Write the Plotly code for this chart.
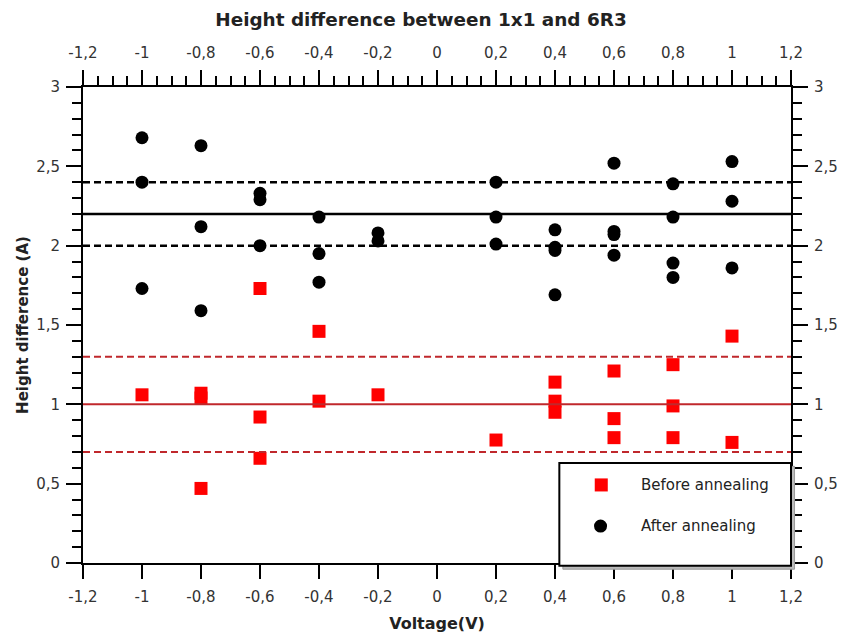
import plotly.graph_objects as go

# Data
before_x = [-1, -0.8, -0.8, -0.8, -0.6, -0.6, -0.6, -0.4, -0.4, -0.2,
            0.2, 0.4, 0.4, 0.4, 0.6, 0.6, 0.6, 0.8, 0.8, 0.8, 1.0, 1.0]
before_y = [1.06, 1.07, 1.04, 0.47, 1.73, 0.92, 0.66, 1.46, 1.02, 1.06,
            0.775, 1.14, 1.02, 0.95, 1.21, 0.91, 0.79, 1.25, 0.99, 0.79, 1.43, 0.76]

after_x = [-1, -1, -1, -0.8, -0.8, -0.8, -0.6, -0.6, -0.6, -0.4, -0.4, -0.4,
           -0.2, -0.2, 0.2, 0.2, 0.2, 0.4, 0.4, 0.4, 0.4, 0.6, 0.6, 0.6, 0.6,
           0.8, 0.8, 0.8, 0.8, 1.0, 1.0, 1.0]
after_y = [2.68, 2.40, 1.73, 2.63, 2.12, 1.59, 2.33, 2.29, 2.00, 2.18, 1.95, 1.77,
           2.08, 2.03, 2.40, 2.18, 2.01, 2.10, 1.99, 1.97, 1.69, 2.52, 2.09, 2.07, 1.94,
           2.39, 2.18, 1.89, 1.80, 2.53, 2.28, 1.86]

after_mean = 2.2
after_band = [2.0, 2.4]
before_mean = 1.0
before_band = [0.7, 1.3]

x_range = [-1.2, 1.2]
y_range = [0, 3]

x_tick_vals = [-1.2, -1.0, -0.8, -0.6, -0.4, -0.2, 0, 0.2, 0.4, 0.6, 0.8, 1.0, 1.2]
x_tick_text = ["-1,2", "-1", "-0,8", "-0,6", "-0,4", "-0,2", "0", "0,2", "0,4", "0,6", "0,8", "1", "1,2"]
y_tick_vals = [0, 0.5, 1, 1.5, 2, 2.5, 3]
y_tick_text = ["0", "0,5", "1", "1,5", "2", "2,5", "3"]

legend_labels = ["Before annealing", "After annealing"]

FONT = "DejaVu Sans"
RED_LINE = "#c0282c"
TXT = "#222222"

fig = go.Figure()

fig.add_trace(go.Scatter(x=before_x, y=before_y, mode="markers", name=legend_labels[0],
                         marker=dict(symbol="square", size=13, color="#ff0000"),
                         showlegend=False))
fig.add_trace(go.Scatter(x=after_x, y=after_y, mode="markers", name=legend_labels[1],
                         marker=dict(symbol="circle", size=13, color="black"),
                         showlegend=False))
# dummy trace to activate mirrored axes
fig.add_trace(go.Scatter(x=[x_range[0]], y=[y_range[0]], xaxis="x2", yaxis="y2",
                         mode="markers", marker=dict(opacity=0), showlegend=False,
                         hoverinfo="skip"))

# reference lines
fig.add_hline(y=after_mean, line=dict(color="black", width=2.5))
for v in after_band:
    fig.add_hline(y=v, line=dict(color="black", width=2.5, dash="7px,4px"))
fig.add_hline(y=before_mean, line=dict(color=RED_LINE, width=2))
for v in before_band:
    fig.add_hline(y=v, line=dict(color=RED_LINE, width=2, dash="7px,4px"))

tickfont = dict(family=FONT, size=15, color="#333333")
common_x = dict(range=x_range, tickmode="array", tickvals=x_tick_vals, ticktext=x_tick_text,
                showgrid=False, zeroline=False, automargin=False,
                showline=True, linecolor="black", linewidth=2, tickfont=tickfont,
                tickcolor="black", tickwidth=1.5, ticks="outside")
common_y = dict(range=y_range, tickmode="array", tickvals=y_tick_vals, ticktext=y_tick_text,
                showgrid=False, zeroline=False, automargin=False,
                showline=True, linecolor="black", linewidth=2, tickfont=tickfont,
                tickcolor="black", tickwidth=1.5, ticks="outside", ticklen=15,
                ticklabelstandoff=3,
                minor=dict(tickmode="linear", tick0=0, dtick=0.1, ticks="outside", ticklen=9,
                           tickcolor="black", tickwidth=1.5))

fig.update_layout(
    width=842, height=633,
    margin=dict(l=83, r=51, t=87, b=70, autoexpand=False),
    paper_bgcolor="white", plot_bgcolor="white",
    font=dict(family=FONT, color="black"),
    title=dict(text="<b>Height difference between 1x1 and 6R3</b>", x=0.5, xanchor="center",
               xref="container", y=1 - 20 / 633, yanchor="middle", automargin=False,
               font=dict(family=FONT, size=18.4, color=TXT)),
    xaxis=dict(**common_x, ticklen=14, ticklabelstandoff=5,
               title=dict(text="<b>Voltage(V)</b>", font=dict(family=FONT, size=16, color=TXT),
                          standoff=14)),
    xaxis2=dict(**common_x, overlaying="x", side="top", ticklen=15, ticklabelstandoff=6,
                minor=dict(tickmode="linear", tick0=0, dtick=0.05, ticks="outside", ticklen=9,
                           tickcolor="black", tickwidth=1.5)),
    yaxis=dict(**common_y,
               title=dict(text="<b>Height difference (A)</b>", font=dict(family=FONT, size=15, color=TXT),
                          standoff=4)),
    yaxis2=dict(**common_y, overlaying="y", side="right"),
    showlegend=False,
)

# manual legend box (paper coordinates)
px0, px1 = 0.6728, 1.0
py0, py1 = -0.006, 0.210
fig.add_shape(type="rect", xref="paper", yref="paper", x0=px0 + 0.005, x1=px1 + 0.005,
              y0=py0 - 0.007, y1=py1 - 0.007, line=dict(color="#999999", width=1),
              fillcolor="#bbbbbb", layer="above")
fig.add_shape(type="rect", xref="paper", yref="paper", x0=px0, x1=px1, y0=py0, y1=py1,
              line=dict(color="black", width=2), fillcolor="white", layer="above")
fig.add_shape(type="rect", xref="paper", yref="paper", x0=0.732 - 0.0092, x1=0.732 + 0.0092,
              y0=0.164 - 0.0137, y1=0.164 + 0.0137, line=dict(width=0), fillcolor="#ff0000",
              layer="above")
fig.add_shape(type="circle", xref="paper", yref="paper", x0=0.731 - 0.0092, x1=0.731 + 0.0092,
              y0=0.0777 - 0.0137, y1=0.0777 + 0.0137, line=dict(width=0), fillcolor="black",
              layer="above")
for lab, yy in zip(legend_labels, [0.164, 0.0777]):
    fig.add_annotation(text=lab, xref="paper", yref="paper", x=0.785, y=yy, xanchor="left",
                       yanchor="middle", showarrow=False,
                       font=dict(family=FONT, size=15, color=TXT))

fig.write_html("out.html")
